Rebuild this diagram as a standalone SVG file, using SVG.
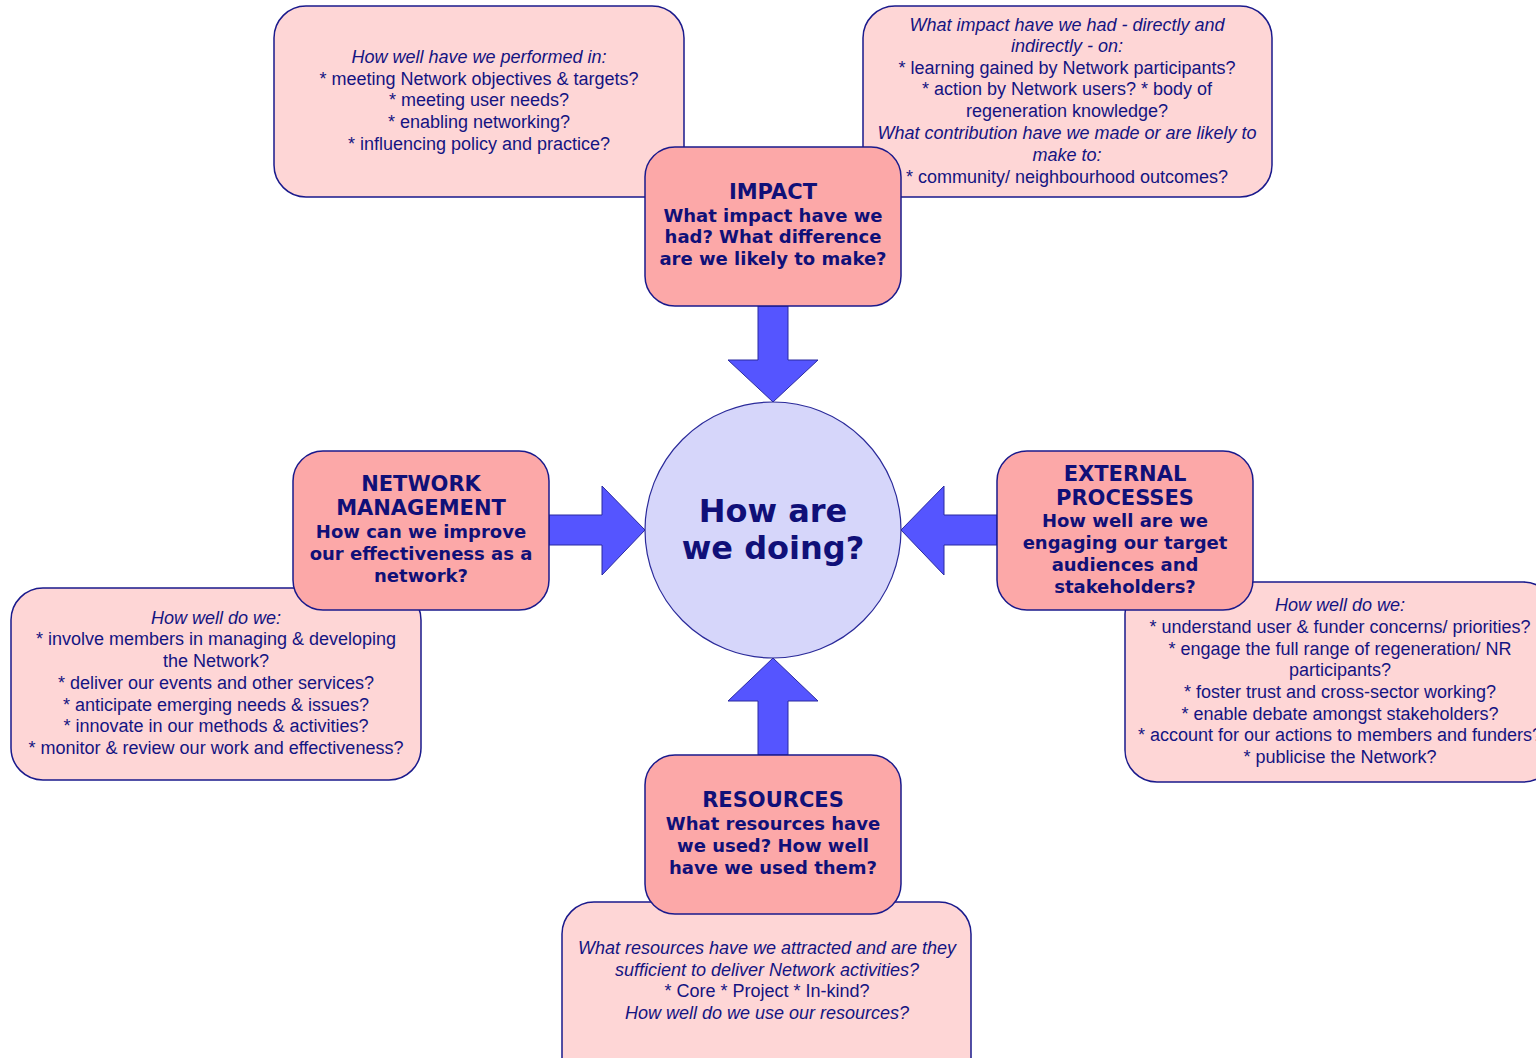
<svg xmlns="http://www.w3.org/2000/svg" width="1536" height="1058" viewBox="0 0 1536 1058">
<style>
.lb{fill:#FED6D6;stroke:#1A1A8C;stroke-width:1.5}
.db{fill:#FCA8A8;stroke:#1A1A8C;stroke-width:1.5}
.ar{fill:#5555FF;stroke:#2A2AA0;stroke-width:1}
.t{font-family:"Liberation Sans",Arial,sans-serif;font-size:18px;fill:#141482;text-anchor:middle}
.i{font-style:italic}
.h{font-family:"DejaVu Sans",Verdana,sans-serif;font-weight:bold;font-size:18px;fill:#101078;text-anchor:middle}
.hh{font-size:21px}
.c{font-family:"DejaVu Sans",Verdana,sans-serif;font-weight:bold;font-size:32px;fill:#101078;text-anchor:middle}
</style>
<rect width="1536" height="1058" fill="#fff"/>
<g id="connectors">
<polygon class="ar" points="758,306 788,306 788,360 818,360 773,402 728,360 758,360"/>
<polygon class="ar" points="549,515 602,515 602,486 645,530 602,575 602,545 549,545"/>
<polygon class="ar" points="997,515 944,515 944,486 901,530 944,575 944,545 997,545"/>
<polygon class="ar" points="758,755 788,755 788,701 818,701 773,658 728,701 758,701"/>
</g>
<g id="impact-detail">
<rect class="lb" x="274" y="6" width="410" height="191" rx="32"/>
<text class="t"><tspan class="i" x="479" y="63">How well have we performed in:</tspan><tspan x="479" y="85">* meeting Network objectives &amp; targets?</tspan><tspan x="479" y="106">* meeting user needs?</tspan><tspan x="479" y="128">* enabling networking?</tspan><tspan x="479" y="150">* influencing policy and practice?</tspan></text>
</g>
<g id="impact-outcomes">
<rect class="lb" x="863" y="6" width="409" height="191" rx="32"/>
<text class="t"><tspan class="i" x="1067" y="31">What impact have we had - directly and</tspan><tspan class="i" x="1067" y="52">indirectly - on:</tspan><tspan x="1067" y="74">* learning gained by Network participants?</tspan><tspan x="1067" y="95">* action by Network users? * body of</tspan><tspan x="1067" y="117">regeneration knowledge?</tspan><tspan class="i" x="1067" y="139">What contribution have we made or are likely to</tspan><tspan class="i" x="1067" y="161">make to:</tspan><tspan x="1067" y="183">* community/ neighbourhood outcomes?</tspan></text>
</g>
<g id="impact">
<rect class="db" x="645" y="147" width="256" height="159" rx="30"/>
<text class="h"><tspan class="hh" x="773" y="199">IMPACT</tspan><tspan x="773" y="222">What impact have we</tspan><tspan x="773" y="243">had? What difference</tspan><tspan x="773" y="265">are we likely to make?</tspan></text>
</g>
<g id="network-detail">
<rect class="lb" x="11" y="588" width="410" height="192" rx="32"/>
<text class="t"><tspan class="i" x="216" y="624">How well do we:</tspan><tspan x="216" y="645">* involve members in managing &amp; developing</tspan><tspan x="216" y="667">the Network?</tspan><tspan x="216" y="689">* deliver our events and other services?</tspan><tspan x="216" y="711">* anticipate emerging needs &amp; issues?</tspan><tspan x="216" y="732">* innovate in our methods &amp; activities?</tspan><tspan x="216" y="754">* monitor &amp; review our work and effectiveness?</tspan></text>
</g>
<g id="network-management">
<rect class="db" x="293" y="451" width="256" height="159" rx="30"/>
<text class="h"><tspan class="hh" x="421" y="491">NETWORK</tspan><tspan class="hh" x="421" y="515">MANAGEMENT</tspan><tspan x="421" y="538">How can we improve</tspan><tspan x="421" y="560">our effectiveness as a</tspan><tspan x="421" y="582">network?</tspan></text>
</g>
<g id="external-detail">
<rect class="lb" x="1125" y="582" width="430" height="200" rx="32"/>
<text class="t"><tspan class="i" x="1340" y="611">How well do we:</tspan><tspan x="1340" y="633">* understand user &amp; funder concerns/ priorities?</tspan><tspan x="1340" y="655">* engage the full range of regeneration/ NR</tspan><tspan x="1340" y="676">participants?</tspan><tspan x="1340" y="698">* foster trust and cross-sector working?</tspan><tspan x="1340" y="720">* enable debate amongst stakeholders?</tspan><tspan x="1340" y="741">* account for our actions to members and funders?</tspan><tspan x="1340" y="763">* publicise the Network?</tspan></text>
</g>
<g id="external-processes">
<rect class="db" x="997" y="451" width="256" height="159" rx="30"/>
<text class="h"><tspan class="hh" x="1125" y="481">EXTERNAL</tspan><tspan class="hh" x="1125" y="505">PROCESSES</tspan><tspan x="1125" y="527">How well are we</tspan><tspan x="1125" y="549">engaging our target</tspan><tspan x="1125" y="571">audiences and</tspan><tspan x="1125" y="593">stakeholders?</tspan></text>
</g>
<g id="resources-detail">
<rect class="lb" x="562" y="902" width="409" height="190" rx="32"/>
<text class="t"><tspan class="i" x="767" y="954">What resources have we attracted and are they</tspan><tspan class="i" x="767" y="976">sufficient to deliver Network activities?</tspan><tspan x="767" y="997">* Core * Project * In-kind?</tspan><tspan class="i" x="767" y="1019">How well do we use our resources?</tspan></text>
</g>
<g id="resources">
<rect class="db" x="645" y="755" width="256" height="159" rx="30"/>
<text class="h"><tspan class="hh" x="773" y="807">RESOURCES</tspan><tspan x="773" y="830">What resources have</tspan><tspan x="773" y="852">we used? How well</tspan><tspan x="773" y="874">have we used them?</tspan></text>
</g>
<g id="center">
<circle cx="773" cy="530" r="128" fill="#D6D6FA" stroke="#2A2A9A" stroke-width="1.2"/>
<text class="c"><tspan x="773" y="522">How are</tspan><tspan x="773" y="559">we doing?</tspan></text>
</g>
</svg>
